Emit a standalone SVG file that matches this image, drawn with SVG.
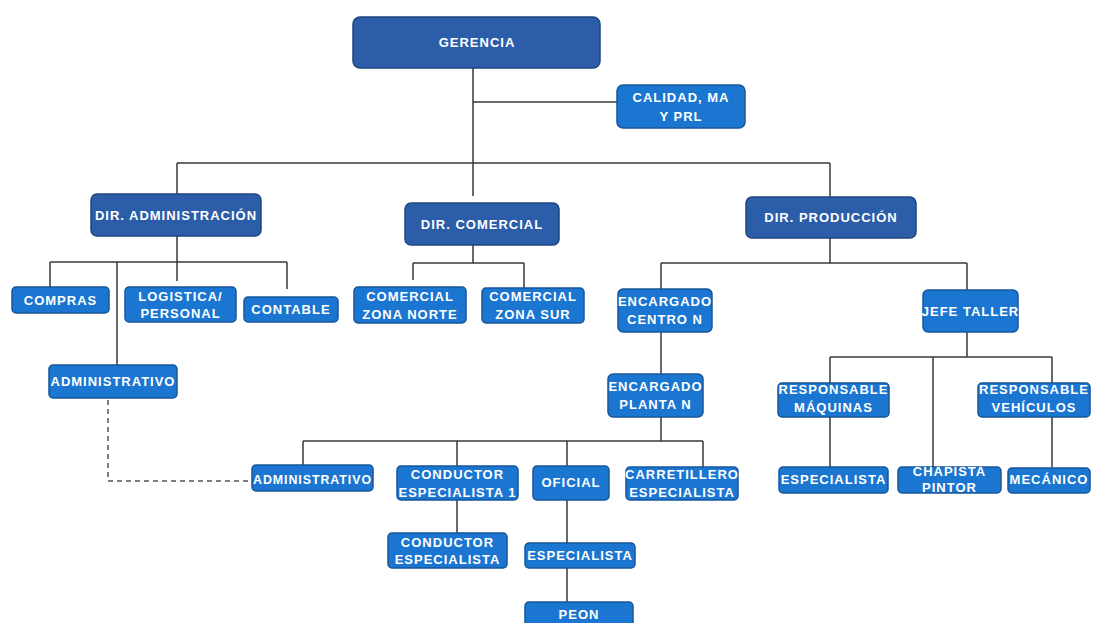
<svg xmlns="http://www.w3.org/2000/svg" width="1097" height="623" viewBox="0 0 1097 623">
<style>
.d{fill:#2C5DA9;stroke:#1F467F;stroke-width:1.5}
.b{fill:#1B76D1;stroke:#17569A;stroke-width:1.5}
text{font-family:"Liberation Sans",Arial,sans-serif;font-weight:bold;font-size:13px;fill:#fff;text-anchor:middle;letter-spacing:1px}
.c{fill:none;stroke:#3a3a3a;stroke-width:1.5}
.dash{fill:none;stroke:#555;stroke-width:1.5;stroke-dasharray:5 4}
</style>
<rect width="1097" height="623" fill="#fff"/>
<g id="connectors">
<path class="c" d="M473,68V196M473,102H617M177,163H830M177,163V194M830,163V197"/>
<path class="c" d="M177,236V262M50,262H287M50,262V287M117,262V365M177,262V281M287,262V289"/>
<path class="c" d="M473,245V263M413,263H524M413,263V280M524,263V288"/>
<path class="c" d="M830,238V263M661,263H967M661,263V289M661,332V374M967,263V290"/>
<path class="c" d="M967,332V357M830,357H1052M830,357V383M933,357V467M1052,357V383M830,417V467M1052,417V468"/>
<path class="c" d="M661,417V441M303,441H703M303,441V465M457,441V466M567,441V466M703,441V467M457,500V533M567,500V543M567,568V602"/>
<path class="dash" d="M108,400V481H250"/>
</g>
<g id="gerencia"><rect class="d" x="353" y="17" width="247" height="51" rx="7"/><text x="477" y="47">GERENCIA</text></g>
<g id="calidad"><rect class="b" x="617" y="85" width="128" height="43" rx="6"/><text x="681" y="102">CALIDAD, MA</text><text x="681" y="121">Y PRL</text></g>
<g id="dir-administracion"><rect class="d" x="91" y="194" width="170" height="42" rx="6"/><text x="176" y="220">DIR. ADMINISTRACIÓN</text></g>
<g id="dir-comercial"><rect class="d" x="405" y="203" width="154" height="42" rx="6"/><text x="482" y="229">DIR. COMERCIAL</text></g>
<g id="dir-produccion"><rect class="d" x="746" y="197" width="170" height="41" rx="6"/><text x="831" y="222">DIR. PRODUCCIÓN</text></g>
<g id="compras"><rect class="b" x="12" y="287" width="97" height="26" rx="4"/><text x="60.5" y="305">COMPRAS</text></g>
<g id="logistica"><rect class="b" x="125" y="287" width="111" height="35" rx="4"/><text x="180.5" y="301">LOGISTICA/</text><text x="180.5" y="318">PERSONAL</text></g>
<g id="contable"><rect class="b" x="244" y="297" width="94" height="25" rx="4"/><text x="291" y="314">CONTABLE</text></g>
<g id="comercial-norte"><rect class="b" x="354" y="287" width="112" height="36" rx="4"/><text x="410" y="301">COMERCIAL</text><text x="410" y="319">ZONA NORTE</text></g>
<g id="comercial-sur"><rect class="b" x="482" y="288" width="102" height="35" rx="4"/><text x="533" y="301">COMERCIAL</text><text x="533" y="319">ZONA SUR</text></g>
<g id="encargado-centro"><rect class="b" x="618" y="289" width="94" height="43" rx="5"/><text x="665" y="306">ENCARGADO</text><text x="665" y="324">CENTRO N</text></g>
<g id="jefe-taller"><rect class="b" x="923" y="290" width="95" height="42" rx="5"/><text x="970.5" y="316">JEFE TALLER</text></g>
<g id="administrativo-1"><rect class="b" x="49" y="365" width="128" height="33" rx="4"/><text x="113" y="386">ADMINISTRATIVO</text></g>
<g id="encargado-planta"><rect class="b" x="608" y="374" width="95" height="43" rx="5"/><text x="655.5" y="391">ENCARGADO</text><text x="655.5" y="409">PLANTA N</text></g>
<g id="responsable-maquinas"><rect class="b" x="778" y="383" width="111" height="34" rx="4"/><text x="833.5" y="394">RESPONSABLE</text><text x="833.5" y="412">MÁQUINAS</text></g>
<g id="responsable-vehiculos"><rect class="b" x="978" y="383" width="112" height="34" rx="4"/><text x="1034" y="394">RESPONSABLE</text><text x="1034" y="412">VEHÍCULOS</text></g>
<g id="administrativo-2"><rect class="b" x="252" y="465" width="121" height="26" rx="4"/><text x="312.5" y="484" textLength="119" lengthAdjust="spacingAndGlyphs">ADMINISTRATIVO</text></g>
<g id="conductor-especialista-1"><rect class="b" x="397" y="466" width="121" height="34" rx="4"/><text x="457.5" y="479">CONDUCTOR</text><text x="457.5" y="497">ESPECIALISTA 1</text></g>
<g id="oficial"><rect class="b" x="533" y="466" width="76" height="34" rx="4"/><text x="571" y="487">OFICIAL</text></g>
<g id="carretillero"><rect class="b" x="626" y="467" width="112" height="33" rx="4"/><text x="682" y="479">CARRETILLERO</text><text x="682" y="497">ESPECIALISTA</text></g>
<g id="especialista-maquinas"><rect class="b" x="779" y="467" width="109" height="26" rx="4"/><text x="833.5" y="484">ESPECIALISTA</text></g>
<g id="chapista-pintor"><rect class="b" x="898" y="467" width="103" height="26" rx="4"/><text x="949.5" y="476">CHAPISTA</text><text x="949.5" y="492">PINTOR</text></g>
<g id="mecanico"><rect class="b" x="1008" y="468" width="82" height="25" rx="4"/><text x="1049" y="484">MECÁNICO</text></g>
<g id="conductor-especialista"><rect class="b" x="388" y="533" width="119" height="35" rx="4"/><text x="447.5" y="547">CONDUCTOR</text><text x="447.5" y="564">ESPECIALISTA</text></g>
<g id="especialista-oficial"><rect class="b" x="525" y="543" width="110" height="25" rx="4"/><text x="580" y="560">ESPECIALISTA</text></g>
<g id="peon"><rect class="b" x="525" y="602" width="108" height="30" rx="4"/><text x="579" y="619">PEON</text></g>
</svg>
